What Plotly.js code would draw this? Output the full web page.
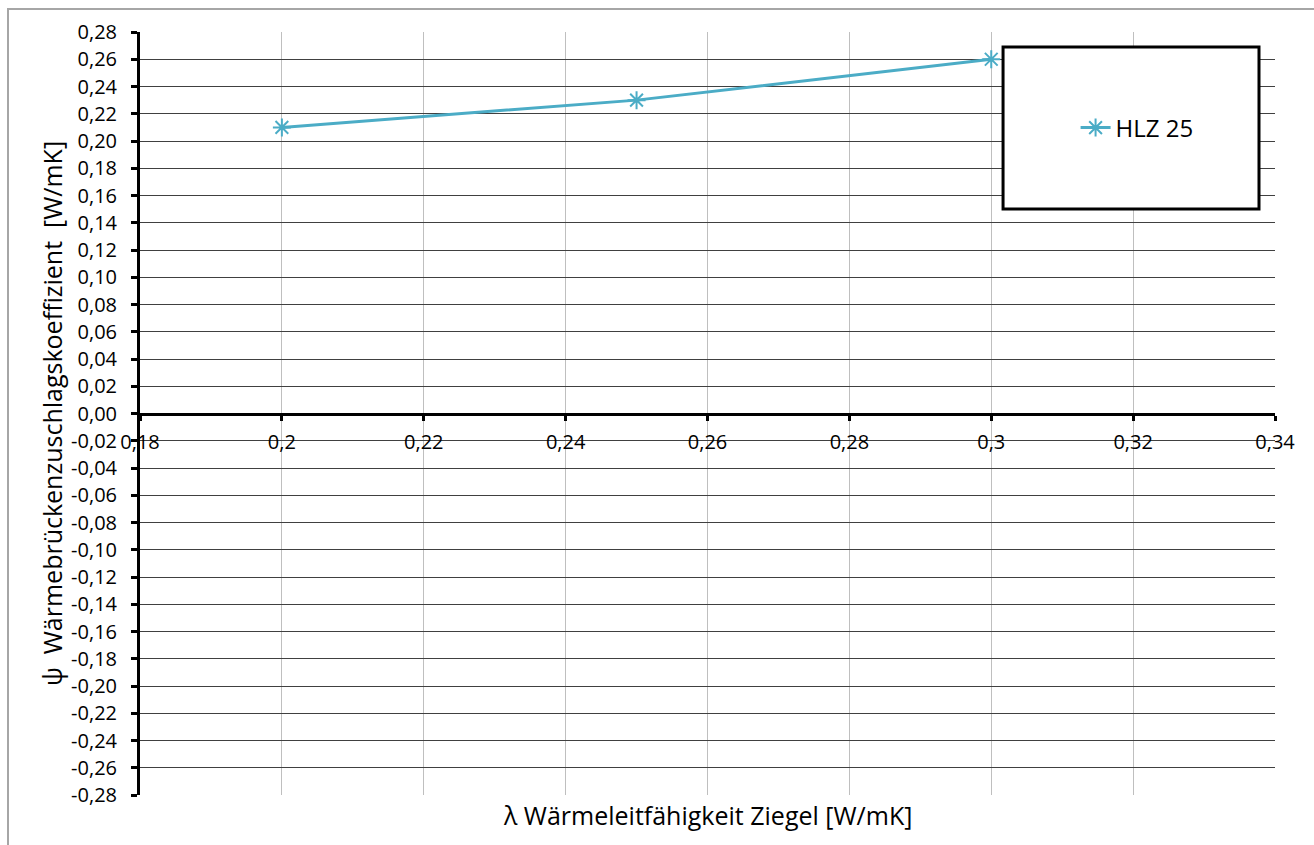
<!DOCTYPE html>
<html>
<head>
<meta charset="utf-8">
<script src="https://cdn.plot.ly/plotly-3.0.1.min.js"></script>
<style>
  html, body { margin: 0; padding: 0; background: #fff; overflow: hidden; }
  #wrap { position: relative; width: 1314px; height: 845px; }
  #chart { position: absolute; left: 0; top: 0; width: 1314px; height: 845px; }
  #frame { position: absolute; left: 7px; top: 8px; width: 1400px; height: 900px;
           border-left: 2px solid #a6a6a6; border-top: 2px solid #a6a6a6; pointer-events: none; }
</style>
</head>
<body>
<div id="wrap">
  <div id="chart"></div>
  <div id="frame"></div>
</div>
<script>
// ---- data ----
const seriesName = "HLZ 25";
const lambdaValues = [0.2, 0.25, 0.3];
const psiValues = [0.21, 0.23, 0.26];

const xTickVals = [0.18, 0.2, 0.22, 0.24, 0.26, 0.28, 0.3, 0.32, 0.34];
const xTickText = ["0,18", "0,2", "0,22", "0,24", "0,26", "0,28", "0,3", "0,32", "0,34"];
const yTickVals = [0.28, 0.26, 0.24, 0.22, 0.20, 0.18, 0.16, 0.14, 0.12, 0.10, 0.08, 0.06, 0.04, 0.02, 0.00,
                   -0.02, -0.04, -0.06, -0.08, -0.10, -0.12, -0.14, -0.16, -0.18, -0.20, -0.22, -0.24, -0.26, -0.28];
const yTickText = ["0,28", "0,26", "0,24", "0,22", "0,20", "0,18", "0,16", "0,14", "0,12", "0,10", "0,08", "0,06", "0,04", "0,02", "0,00",
                   "-0,02", "-0,04", "-0,06", "-0,08", "-0,10", "-0,12", "-0,14", "-0,16", "-0,18", "-0,20", "-0,22", "-0,24", "-0,26", "-0,28"];

const xTitle = "λ Wärmeleitfähigkeit Ziegel [W/mK]";
const yTitle = "ψ  Wärmebrückenzuschlagskoeffizient  [W/mK]";

const lineColor = "#4BACC6";
const FONT = "Open Sans, Noto Sans, sans-serif";

const traces = [{
  type: "scatter",
  mode: "lines+markers",
  name: seriesName,
  x: lambdaValues,
  y: psiValues,
  line: { color: lineColor, width: 3 },
  marker: { symbol: "asterisk-open", size: 15, color: lineColor, line: { color: lineColor, width: 2 } }
}];

const layout = {
  width: 1314,
  height: 845,
  margin: { l: 140, r: 39, t: 32, b: 50, pad: 0 },
  paper_bgcolor: "rgba(0,0,0,0)",
  plot_bgcolor: "#ffffff",
  font: { family: FONT, color: "#000000", size: 20 },
  showlegend: true,
  legend: {
    x: 0.8243, xanchor: "left",
    y: 0.8742, yanchor: "middle",
    bgcolor: "rgba(0,0,0,0)",
    borderwidth: 0,
    font: { family: FONT, size: 24, color: "#000" },
    itemclick: false
  },
  xaxis: {
    range: [0.18, 0.34],
    anchor: "free",
    position: 0.5,
    tickmode: "array",
    tickvals: xTickVals,
    ticktext: xTickText,
    showgrid: true,
    gridcolor: "#bfbfbf",
    gridwidth: 1,
    zeroline: false,
    showline: true,
    linecolor: "#000000",
    linewidth: 3,
    ticks: "outside",
    ticklen: 5,
    tickwidth: 3,
    tickcolor: "#000000",
    ticklabelstandoff: 4,
    tickfont: { family: FONT, size: 20, color: "#000" },
    title: { text: "" }
  },
  yaxis: {
    range: [-0.28, 0.28],
    tickmode: "array",
    tickvals: yTickVals,
    ticktext: yTickText,
    showgrid: true,
    gridcolor: "#404040",
    gridwidth: 1,
    zeroline: false,
    showline: true,
    linecolor: "#000000",
    linewidth: 3,
    ticks: "outside",
    ticklen: 6,
    tickwidth: 3,
    tickcolor: "#000000",
    ticklabelstandoff: 10,
    tickfont: { family: FONT, size: 20, color: "#000" },
    title: { text: yTitle, font: { family: FONT, size: 25, color: "#000" } }
  },
  annotations: [{
    xref: "paper", yref: "paper",
    x: 0.5, y: -0.0262, xanchor: "center", yanchor: "middle",
    text: xTitle, showarrow: false,
    font: { family: FONT, size: 25, color: "#000" }
  }],
  shapes: [{
    type: "rect", xref: "paper", yref: "paper", layer: "above",
    x0: 0.7604, x1: 0.9859, y0: 0.768, y1: 0.9803,
    fillcolor: "#ffffff",
    line: { color: "#000000", width: 3 }
  }]
};

Plotly.newPlot("chart", traces, layout, { displayModeBar: false, staticPlot: true });
</script>
</body>
</html>
